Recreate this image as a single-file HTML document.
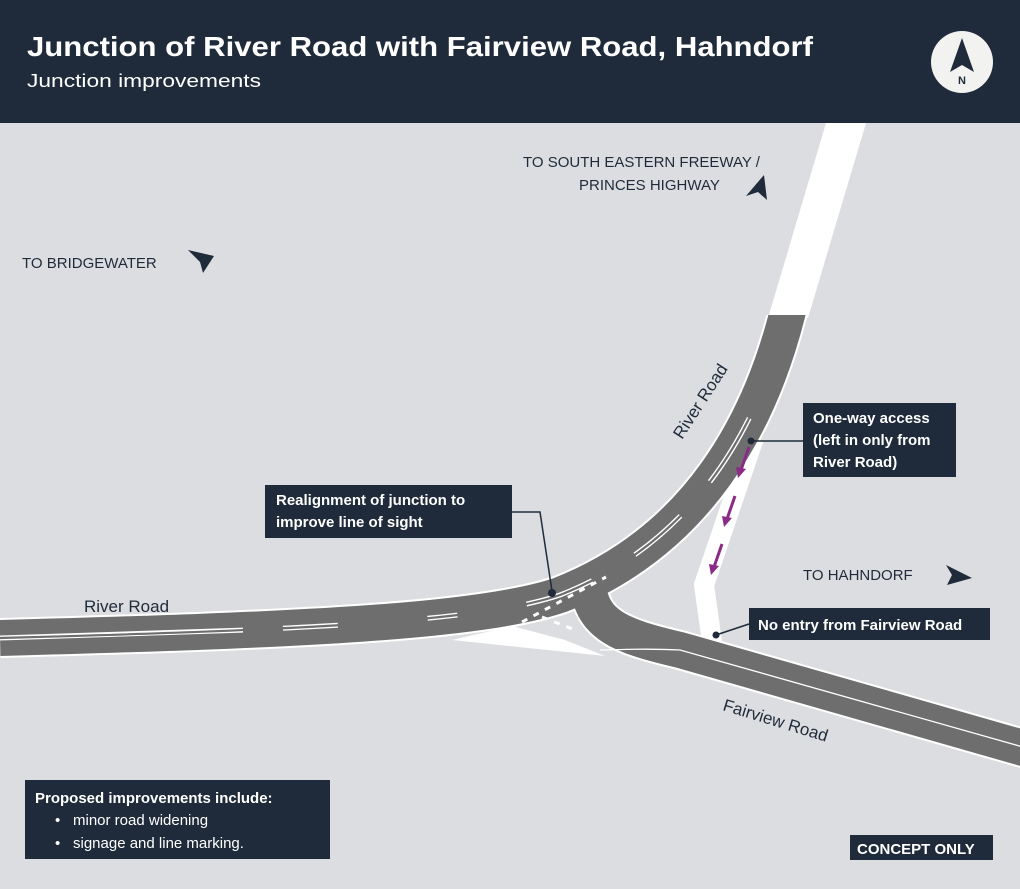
<!DOCTYPE html>
<html><head><meta charset="utf-8"><style>
html,body{margin:0;padding:0;background:#dcdde0;}
svg{display:block;font-family:"Liberation Sans",sans-serif;}
</style></head><body>
<svg width="1020" height="889" viewBox="0 0 1020 889" xmlns="http://www.w3.org/2000/svg">
<defs><clipPath id="c"><rect x="0" y="315" width="1020" height="574"/></clipPath></defs>
<rect width="1020" height="889" fill="#dcdde0"/>
<!-- header -->
<rect width="1020" height="123" fill="#1f2b3a"/>
<text x="27" y="56" font-size="28" font-weight="bold" fill="#fff" textLength="786" lengthAdjust="spacingAndGlyphs">Junction of River Road with Fairview Road, Hahndorf</text>
<text x="27" y="87" font-size="18" fill="#fff" textLength="234" lengthAdjust="spacingAndGlyphs">Junction improvements</text>
<circle cx="962" cy="62" r="31" fill="#f2f2f0"/>
<polygon points="962,38 950,72 962,65 974,72" fill="#1f2b3a"/>
<text x="962" y="84" font-size="11" font-weight="bold" fill="#1f2b3a" text-anchor="middle">N</text>

<!-- old white road -->
<polygon points="826,123 866,123 808,318 768,318" fill="#fff"/>
<!-- slip lane -->
<polyline points="754,438 704,585 712,642" fill="none" stroke="#fff" stroke-width="20" stroke-linejoin="round"/>
<!-- white triangle -->
<polygon points="452,640 512,626 565,640 605,656" fill="#fff"/>

<g clip-path="url(#c)">
<g fill="none" stroke="#fff" stroke-width="40">
<path d="M792,295 L787,315 C760,420 700,540 560,595 C480,622 300,630 0,638"/>
<path d="M588,585 C592,625 620,636 680,650 L1030,750"/>
</g>
<g fill="none" stroke="#6e6e6e" stroke-width="36">
<path d="M792,295 L787,315 C760,420 700,540 560,595 C480,622 300,630 0,638"/>
<path d="M588,585 C592,625 620,636 680,650 L1030,750"/>
</g>
<!-- lane markings: double lines -->
<g fill="none">
<path d="M787,315 C760,420 700,540 560,595 C480,622 300,630 0,638" stroke="#fff" stroke-width="5" stroke-dasharray="0,110 75,45 60,50 70,70 30,90 55,40 330,20"/>
<path d="M787,315 C760,420 700,540 560,595 C480,622 300,630 0,638" stroke="#6e6e6e" stroke-width="2.2"/>
<path d="M600,650 C620,650 640,648 680,650 L1030,749" stroke="#fff" stroke-width="1.3"/>
</g>
</g>
<g fill="none" stroke="#fff" stroke-width="3" stroke-dasharray="6,7">
<path d="M522,622 L606,577"/>
<path d="M542,617 L575,630"/>
</g>

<!-- purple arrows -->
<g stroke="#8a2b86" stroke-width="3" fill="#8a2b86">
<line x1="749" y1="447" x2="741" y2="470"/><polygon points="736,467 746,469 738,478" stroke="none"/>
<line x1="735" y1="496" x2="727" y2="519"/><polygon points="722,516 732,518 724,527" stroke="none"/>
<line x1="722" y1="544" x2="714" y2="567"/><polygon points="709,564 719,566 711,575" stroke="none"/>
</g>

<!-- road labels -->
<text x="84" y="612" font-size="17" fill="#1f2b3a">River Road</text>
<text transform="translate(682,440) rotate(-57)" font-size="17" fill="#1f2b3a">River Road</text>
<text transform="translate(722,710) rotate(17)" font-size="17" fill="#1f2b3a">Fairview Road</text>

<!-- direction labels -->
<g font-size="15" fill="#1f2b3a">
<text x="22" y="268">TO BRIDGEWATER</text>
<text x="523" y="167">TO SOUTH EASTERN FREEWAY /</text>
<text x="579" y="190">PRINCES HIGHWAY</text>
<text x="803" y="580">TO HAHNDORF</text>
</g>
<g fill="#1f2b3a">
<polygon points="188,250 214,256 203,273 200,262"/>
<polygon points="764,175 767,200 758,192 746,196"/>
<polygon points="946,565 972,578 947,585 952,575"/>
</g>

<!-- callouts -->
<g stroke="#1f2b3a" stroke-width="1.5" fill="none">
<polyline points="512,512 540,512 552,591"/>
<line x1="752" y1="441" x2="803" y2="441"/>
<line x1="716" y1="635" x2="749" y2="624"/>
</g>
<g fill="#1f2b3a">
<circle cx="552" cy="593" r="4"/><circle cx="751" cy="441" r="3.5"/><circle cx="716" cy="635" r="3.5"/>
<rect x="265" y="485" width="247" height="53"/>
<rect x="803" y="403" width="153" height="74"/>
<rect x="749" y="608" width="241" height="32"/>
<rect x="25" y="780" width="305" height="79"/>
<rect x="850" y="835" width="143" height="25"/>
</g>
<g font-size="15" font-weight="bold" fill="#fff">
<text x="276" y="505">Realignment of junction to</text>
<text x="276" y="527">improve line of sight</text>
<text x="813" y="423">One-way access</text>
<text x="813" y="445">(left in only from</text>
<text x="813" y="467">River Road)</text>
<text x="758" y="630">No entry from Fairview Road</text>
<text x="35" y="803">Proposed improvements include:</text>
<text x="857" y="854">CONCEPT ONLY</text>
</g>
<g font-size="15" fill="#fff">
<text x="55" y="825">•</text><text x="73" y="825">minor road widening</text>
<text x="55" y="848">•</text><text x="73" y="848">signage and line marking.</text>
</g>
</svg>
</body></html>
